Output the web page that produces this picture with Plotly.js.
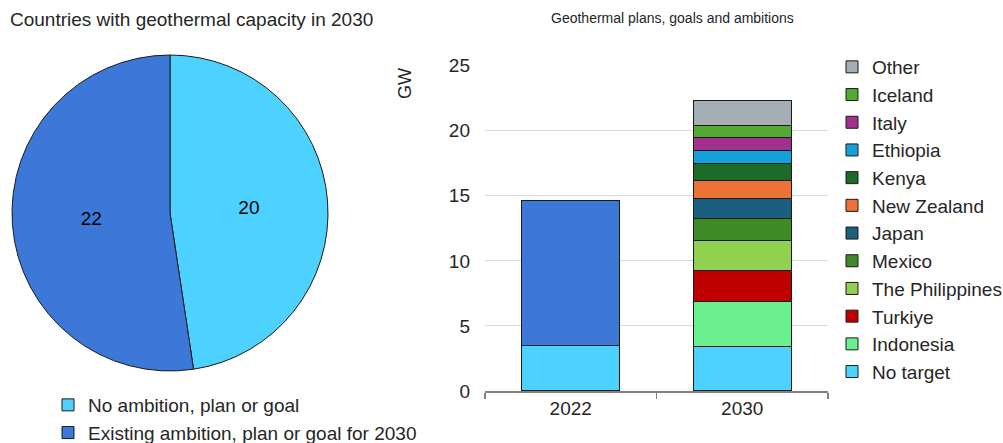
<!DOCTYPE html>
<html>
<head>
<meta charset="utf-8">
<script src="https://cdn.plot.ly/plotly-3.0.1.min.js"></script>
<style>html,body{margin:0;padding:0;background:#fff;}#chart{width:1003px;height:443px;}</style>
</head>
<body>
<div id="chart"></div>
<script>
// ---- Data ----
const pieTitle = 'Countries with geothermal capacity in 2030';
const barTitle = 'Geothermal plans, goals and ambitions';
const pieLabels = ['No ambition, plan or goal', 'Existing ambition, plan or goal for 2030'];
const pieValues = [20, 22];
const pieColors = ['#4DD2FF', '#3C78D8'];

const years = ['2022', '2030'];
const existing2022 = [11.15, null];
const seriesNames = ['No target', 'Indonesia', 'Turkiye', 'The Philippines', 'Mexico', 'Japan',
  'New Zealand', 'Kenya', 'Ethiopia', 'Italy', 'Iceland', 'Other'];
const noTarget    = [3.5, 3.45];
const indonesia   = [null, 3.4];
const turkiye     = [null, 2.4];
const philippines = [null, 2.3];
const mexico      = [null, 1.7];
const japan       = [null, 1.55];
const newZealand  = [null, 1.38];
const kenya       = [null, 1.3];
const ethiopia    = [null, 1.0];
const italy       = [null, 1.02];
const iceland     = [null, 0.9];
const other       = [null, 1.9];
const seriesValues = [noTarget, indonesia, turkiye, philippines, mexico, japan,
  newZealand, kenya, ethiopia, italy, iceland, other];
const seriesColors = ['#4DD2FF', '#6BF08F', '#C00000', '#92D050', '#3E8A27', '#1B5F80',
  '#ED7236', '#1D6B26', '#14A0D8', '#A2308F', '#54A932', '#A5ADB5'];
const yTicks = [0, 5, 10, 15, 20, 25];

// ---- Styling ----
const W = 1003, H = 443;
const px = v => v / W;
const py = v => (H - v) / H;
const FONT = 'Liberation Sans, Arial, sans-serif';
const TXT = '#262626';
const edge = {color: '#1a1a1a', width: 1};

const traces = [];
traces.push({
  type: 'pie', labels: pieLabels, values: pieValues, sort: false, direction: 'clockwise',
  rotation: 0, marker: {colors: pieColors, line: edge},
  textinfo: 'value', textposition: 'inside', insidetextorientation: 'horizontal',
  textfont: {family: FONT, size: 19, color: '#000'},
  domain: {x: [px(12), px(328)], y: [py(371), py(55)]},
  legend: 'legend', hoverinfo: 'label+value'
});

seriesNames.forEach((name, i) => {
  traces.push({
    type: 'bar', name: name, x: years, y: seriesValues[i],
    marker: {color: seriesColors[i], line: edge},
    xaxis: 'x', yaxis: 'y', legend: 'legend2'
  });
  if (i === 0) {
    traces.push({
      type: 'bar', name: 'Existing', x: years, y: existing2022,
      marker: {color: '#3C78D8', line: edge},
      xaxis: 'x', yaxis: 'y', showlegend: false, legend: 'legend2'
    });
  }
});

const layout = {
  width: W, height: H,
  margin: {l: 0, r: 0, t: 0, b: 0, autoexpand: false},
  paper_bgcolor: '#fff', plot_bgcolor: '#fff',
  font: {family: FONT, size: 19, color: TXT},
  barmode: 'stack', bargap: 0.43,
  xaxis: {
    domain: [px(485), px(828)], anchor: 'y', type: 'category',
    ticks: 'outside', tickson: 'boundaries', ticklen: 6, tickcolor: '#808080', tickwidth: 1.5,
    showline: true, linecolor: '#808080', linewidth: 1.5,
    tickfont: {family: FONT, size: 19, color: TXT}, showgrid: false, fixedrange: true
  },
  yaxis: {
    domain: [py(391), py(65.7)], anchor: 'x', range: [0, 25], tickvals: yTicks,
    showgrid: true, gridcolor: '#d9d9d9', gridwidth: 1, zeroline: false, showline: false,
    ticks: '', ticklabelstandoff: 14,
    tickfont: {family: FONT, size: 19, color: TXT}, fixedrange: true
  },
  legend: {
    x: px(48), xanchor: 'left', y: py(386), yanchor: 'top',
    bgcolor: 'rgba(0,0,0,0)', font: {family: FONT, size: 19, color: TXT}
  },
  legend2: {
    x: px(832), xanchor: 'left', y: py(48), yanchor: 'top',
    bgcolor: 'rgba(0,0,0,0)', font: {family: FONT, size: 19, color: TXT},
    traceorder: 'reversed'
  },
  annotations: [
    {text: pieTitle, xref: 'paper', yref: 'paper', x: px(8), y: py(20), xanchor: 'left', yanchor: 'middle',
     showarrow: false, font: {family: FONT, size: 19, color: TXT}},
    {text: barTitle, xref: 'paper', yref: 'paper', x: px(672), y: py(18), xanchor: 'center', yanchor: 'middle',
     showarrow: false, font: {family: FONT, size: 14, color: TXT}},
    {text: 'GW', xref: 'paper', yref: 'paper', x: px(405), y: py(84), xanchor: 'center', yanchor: 'middle',
     textangle: -90, showarrow: false, font: {family: FONT, size: 18, color: TXT}}
  ]
};

Plotly.newPlot('chart', traces, layout, {displayModeBar: false, staticPlot: true});
</script>
</body>
</html>
